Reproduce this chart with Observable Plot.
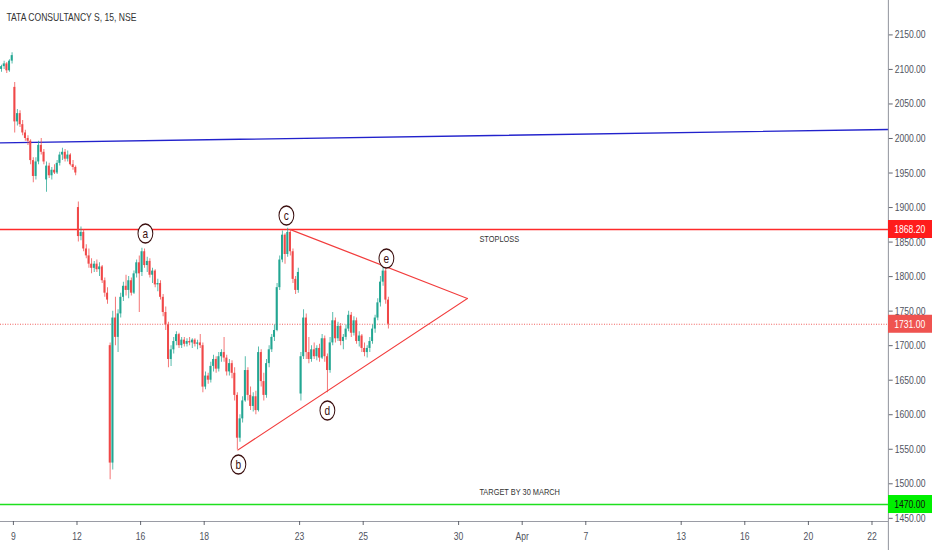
<!DOCTYPE html>
<html><head><meta charset="utf-8">
<script src="https://cdn.jsdelivr.net/npm/d3@7"></script>
<script src="https://cdn.jsdelivr.net/npm/@observablehq/plot@0.6"></script>
<style>html,body{margin:0;padding:0;background:#fff;} #chart{width:932px;height:550px;overflow:hidden}</style>
</head><body><div id="chart"></div><script>
// ---- data (TCS, NSE, 30-min-ish candles; Mar 6 tail .. Mar 25) ----
const title = "TATA CONSULTANCY S, 15, NSE";
const slotsPerDay = 12;
const firstSlot = -5; // last 5 candles of Mar 6
const open = [
  2100,2104,2108,2098,2112,
  2074,2024,2036,2020,2008,2000,1996,1968,1945,1966,1990,1980,
  1940,1960,1946,1954,1950,1964,1976,1980,1970,1976,1962,1958,
  1900,1858,1864,1840,1830,1818,1812,1818,1810,1814,1794,1776,
  1700,1530,1740,1712,1746,1770,1786,1780,1794,1776,1804,1820,
  1806,1836,1816,1822,1802,1808,1788,1790,1770,1748,1730,1680,
  1694,1706,1716,1700,1708,1702,1706,1704,1708,1702,1704,1700,
  1640,1656,1650,1670,1680,1666,1684,1690,1682,1662,1674,1660,
  1628,1566,1594,1620,1664,1628,1612,1626,1606,1690,1648,1628,
  1674,1694,1712,1722,1784,1824,1860,1832,1864,1836,1796,1780,
  1630,1684,1740,1690,1680,1694,1684,1696,1682,1710,1684,1664,
  1704,1736,1710,1728,1706,1712,1724,1744,1718,1736,1706,1714,
  1696,1690,1696,1706,1724,1740,1762,1792,1808,1766
];
const high = [
  2106,2112,2110,2114,2124,
  2081,2042,2040,2026,2012,2004,1998,1972,1972,1996,2000,1984,
  1966,1964,1958,1962,1968,1980,1986,1984,1982,1978,1968,1960,
  1908,1872,1868,1846,1840,1826,1822,1824,1820,1816,1798,1784,
  1704,1750,1770,1752,1776,1792,1802,1800,1798,1808,1824,1830,
  1841,1840,1828,1826,1812,1810,1796,1794,1774,1756,1734,1700,
  1712,1720,1718,1712,1712,1710,1712,1710,1710,1708,1716,1704,
  1662,1660,1676,1686,1684,1690,1694,1712,1686,1680,1678,1668,
  1632,1600,1626,1684,1668,1640,1632,1634,1698,1694,1660,1680,
  1700,1716,1730,1790,1830,1866,1862,1870,1868,1840,1800,1812,
  1690,1752,1746,1712,1700,1704,1700,1702,1716,1714,1688,1712,
  1748,1740,1734,1732,1716,1730,1750,1748,1742,1740,1720,1716,
  1704,1700,1712,1730,1744,1768,1800,1814,1812,1770
];
const low = [
  2096,2100,2094,2096,2108,
  2008,2018,2016,2004,1996,1990,1962,1936,1940,1962,1976,1962,
  1922,1942,1940,1948,1948,1960,1968,1966,1966,1960,1954,1946,
  1850,1852,1836,1826,1812,1804,1806,1806,1800,1790,1770,1760,
  1506,1520,1700,1690,1740,1764,1772,1768,1772,1774,1798,1748,
  1800,1812,1806,1798,1790,1784,1778,1766,1742,1722,1668,1670,
  1688,1700,1696,1696,1698,1698,1700,1696,1698,1694,1696,1632,
  1636,1644,1646,1662,1660,1662,1676,1676,1656,1656,1652,1620,
  1549,1560,1588,1618,1620,1606,1604,1600,1604,1640,1620,1624,
  1668,1690,1706,1720,1780,1820,1818,1828,1830,1790,1774,1776,
  1620,1680,1680,1674,1676,1680,1678,1676,1680,1676,1632,1660,
  1700,1704,1706,1700,1694,1708,1720,1712,1714,1702,1698,1690,
  1684,1682,1690,1702,1718,1736,1756,1786,1760,1724
];
const close = [
  2104,2108,2098,2112,2120,
  2024,2036,2020,2008,2000,1996,1968,1945,1966,1990,1980,1966,
  1960,1946,1954,1950,1964,1976,1980,1970,1976,1962,1958,1950,
  1858,1864,1840,1830,1818,1812,1818,1810,1814,1794,1776,1766,
  1530,1740,1712,1746,1770,1786,1780,1794,1776,1804,1820,1804,
  1836,1816,1822,1802,1808,1788,1790,1770,1748,1730,1680,1694,
  1706,1716,1700,1708,1702,1706,1704,1708,1702,1704,1700,1640,
  1656,1650,1670,1680,1666,1684,1690,1682,1662,1674,1660,1628,
  1566,1594,1620,1664,1628,1612,1626,1606,1690,1648,1628,1674,
  1694,1712,1722,1784,1824,1860,1832,1864,1836,1796,1780,1806,
  1684,1740,1690,1680,1694,1684,1696,1682,1710,1684,1664,1704,
  1736,1710,1728,1706,1712,1724,1744,1718,1736,1706,1714,1696,
  1690,1696,1706,1724,1740,1762,1792,1808,1766,1731
];
// x axis: trading-day index -> label
const xTicks = [0,2,4,6,9,11,14,16,18,21,23,25,27];
const xTickLabels = ["9","12","16","18","23","25","30","Apr","7","13","16","20","22"];
const yTicks = [1450,1500,1550,1600,1650,1700,1750,1800,1850,1900,1950,2000,2050,2100,2150];
const xDomain = [-0.409, 27.516];
const yDomain = [1445.4, 2199.8];
// horizontal levels
const levelValues = [1868.2, 1731.0, 1470.0];
// blue trend line (two anchor points)
const trendT = [-0.409, 27.516];
const trendPrice = [1993.6, 2013.0];
// triangle: c -> apex, b -> apex
const triT = [8.711, 14.277, 7.060, 14.277];
const triPrice = [1868.2, 1768.3, 1548.9, 1768.3];
const triSide = ["upper","upper","lower","lower"];
// wave labels
const waveLabels = ["a","b","c","d","e"];
const waveT = [4.151, 7.075, 8.585, 9.874, 11.730];
const wavePrice = [1862.4, 1527.9, 1888.5, 1606.1, 1826.2];
// notes
const noteText = ["STOPLOSS", "TARGET BY 30 MARCH"];
const noteT = [14.654, 14.654];
const notePrice = [1855.2, 1488.8];

// ---- build ----
const W = 1195, H = 550, MR = 56.4, MB = 29;
const up = "#22a692", down = "#f04848";
const candles = open.map((o, i) => ({t: (firstSlot + i + 0.5) / slotsPerDay, o, h: high[i], l: low[i], c: close[i],
  col: close[i] >= o ? up : down}));
const bw = 0.38 / slotsPerDay;
const trend = trendT.map((t, i) => ({t, p: trendPrice[i]}));
const tri = triT.map((t, i) => ({t, p: triPrice[i], z: triSide[i]}));
const waves = waveLabels.map((s, i) => ({s, t: waveT[i], p: wavePrice[i]}));
const notes = noteText.map((s, i) => ({s, t: noteT[i], p: notePrice[i]}));
const levelBg = ["#ff1c1c", "#ef5350", "#00f000"];
const levelFg = ["#ffffff", "#ffffff", "#111111"];
const levels = levelValues.map((v, i) => ({v, txt: v.toFixed(2), bg: levelBg[i], fg: levelFg[i]}));
const labelMap = new Map(xTicks.map((t, i) => [t, xTickLabels[i]]));
const xMax = xDomain[1];
const axisColor = "#9a9ca5", textColor = "#50535e";

const chart = Plot.plot({
  width: W, height: H, marginLeft: 0, marginRight: MR, marginTop: 0, marginBottom: MB,
  x: {domain: xDomain, axis: null},
  y: {domain: yDomain, axis: null},
  color: {type: "identity"},
  style: {fontFamily: "'Liberation Sans', Arial, sans-serif", background: "#fff", overflow: "visible"},
  marks: [
    Plot.ruleY([levelValues[0]], {stroke: "#ff2a2a", strokeWidth: 1.4}),
    Plot.ruleY([levelValues[2]], {stroke: "#1ee01e", strokeWidth: 1.4}),
    Plot.ruleY([levelValues[1]], {stroke: "#ef5350", strokeWidth: 1.2, strokeDasharray: "1.2,2"}),
    Plot.line(trend, {x: "t", y: "p", stroke: "#2222cc", strokeWidth: 1.4}),
    Plot.line(tri, {x: "t", y: "p", z: "z", stroke: "#f23c3c", strokeWidth: 1.3}),
    Plot.ruleX(candles, {x: "t", y1: "l", y2: "h", stroke: "col", strokeWidth: 1.2, strokeOpacity: 0.8}),
    Plot.rect(candles, {x1: d => d.t - bw, x2: d => d.t + bw, y1: "o", y2: "c", fill: "col"}),
    Plot.text(notes, {x: "t", y: "p", text: "s", textAnchor: "start", fontSize: 9.5, fill: "#333"}),
    Plot.dot(waves, {x: "t", y: "p", r: 9.5, fill: "#fff", stroke: "#3b0f0f", strokeWidth: 1.3}),
    Plot.text(waves, {x: "t", y: "p", text: "s", fontSize: 13, fill: "#3b0f0f"}),
    Plot.text([title], {frameAnchor: "top-left", text: d => d, textAnchor: "start", lineAnchor: "middle",
      dx: 7.7, dy: 17, fontSize: 11, fill: "#333"}),
    Plot.ruleY([yDomain[0]], {stroke: axisColor, strokeWidth: 1.2}),
    Plot.ruleX([xMax], {stroke: axisColor, strokeWidth: 1.4, insetBottom: -MB}),
    Plot.axisY(yTicks, {anchor: "right", label: null, tickSize: 5, tickPadding: 3, tickFormat: d => d.toFixed(2),
      fontSize: 11, color: textColor}),
    Plot.axisX(xTicks, {anchor: "bottom", label: null, tickSize: 4, tickPadding: 7, tickFormat: d => labelMap.get(d),
      fontSize: 11, color: textColor}),
    Plot.rect(levels, {x1: () => xMax, x2: () => xMax, y1: "v", y2: "v", insetTop: -9, insetBottom: -9,
      insetRight: -MR, fill: "bg"}),
    Plot.text(levels, {x: () => xMax, y: "v", text: "txt", textAnchor: "start", dx: 7.5, fontSize: 11, fill: "fg"})
  ]
});
chart.setAttribute("width", 932);
chart.setAttribute("height", 550);
chart.setAttribute("preserveAspectRatio", "none");
chart.style.width = "932px";
chart.style.height = "550px";
chart.style.maxWidth = "none";
document.getElementById("chart").appendChild(chart);
</script></body></html>
